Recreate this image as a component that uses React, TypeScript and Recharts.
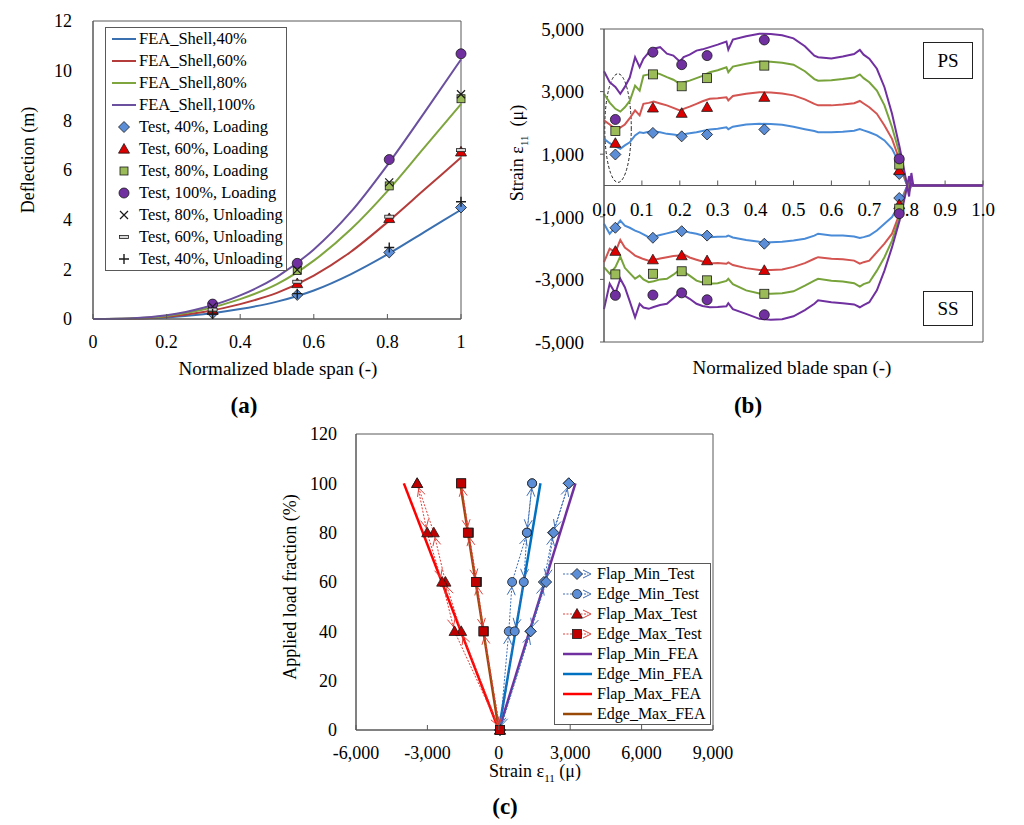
import React from 'react'
import {
  ComposedChart,
  Legend,
  Line,
  ReferenceArea,
  ReferenceDot,
  ReferenceLine,
  Scatter,
  XAxis,
  YAxis,
} from 'recharts'

const FONT = '"Liberation Serif", "Times New Roman", serif'
const AXIS = '#595959'

// ---------- (a) deflection along the span ----------
const A_SPAN = [0, 0.1, 0.2, 0.3, 0.4, 0.5, 0.6, 0.7, 0.8, 0.9, 1]
const A_FEA_40 = [0, 0.01, 0.06, 0.19, 0.4, 0.7, 1.15, 1.8, 2.6, 3.5, 4.4]
const A_FEA_60 = [0, 0.01, 0.09, 0.28, 0.6, 1.05, 1.75, 2.7, 3.9, 5.2, 6.5]
const A_FEA_80 = [0, 0.02, 0.12, 0.38, 0.8, 1.4, 2.35, 3.6, 5.15, 6.9, 8.65]
const A_FEA_100 = [0, 0.02, 0.15, 0.45, 0.95, 1.7, 2.8, 4.3, 6.2, 8.3, 10.45]

const A_TEST_SPAN = [0.325, 0.555, 0.805, 1]
const A_T40_LOAD = [0.23, 0.97, 2.68, 4.49]
const A_T60_LOAD = [0.35, 1.43, 4.05, 6.73]
const A_T80_LOAD = [0.45, 1.95, 5.36, 8.87]
const A_T100_LOAD = [0.6, 2.24, 6.42, 10.68]
const A_T80_UNLOAD = [0.5, 1.98, 5.5, 9.05]
const A_T60_UNLOAD = [0.38, 1.5, 4.12, 6.8]
const A_T40_UNLOAD = [0.2, 1.02, 2.88, 4.72]

const A_TICKS_X = [0, 0.2, 0.4, 0.6, 0.8, 1]
const A_TICKS_Y = [0, 2, 4, 6, 8, 10, 12]

// ---------- (b) strain along the span ----------
const B_SPAN = [
  0, 0.015, 0.03, 0.043, 0.055, 0.068, 0.082, 0.094, 0.104, 0.118, 0.131, 0.148, 0.166, 0.183,
  0.2, 0.21, 0.226, 0.244, 0.26, 0.279, 0.3, 0.323, 0.328, 0.34, 0.375, 0.41, 0.44, 0.47, 0.5,
  0.53, 0.555, 0.565, 0.6, 0.63, 0.66, 0.675, 0.685, 0.7, 0.72, 0.74, 0.76, 0.78, 0.795, 0.805,
  0.811, 0.816, 1,
]
const B_PS_40 = [
  1490, 1350, 1250, 1170, 1280, 1380, 1600, 1700, 1680, 1720, 1730, 1700, 1650, 1630, 1600,
  1640, 1670, 1700, 1740, 1790, 1810, 1860, 1800, 1880, 1950, 1970, 1965, 1940, 1880, 1800,
  1740, 1700, 1700, 1720, 1750, 1800, 1760, 1700, 1600, 1440, 1170, 690, 150, -100, 0, 0, 0,
]
const B_PS_60 = [
  2080, 1950, 1810, 1850, 1950, 2150, 2400, 2240, 2610, 2640, 2680, 2620, 2560, 2480, 2400,
  2450, 2520, 2610, 2690, 2770, 2790, 2820, 2720, 2860, 2930, 2980, 2970, 2940, 2880, 2750,
  2610, 2560, 2560, 2590, 2630, 2700, 2620, 2500, 2290, 1920, 1490, 800, 200, -150, 0, 0, 0,
]
const B_PS_80 = [
  2930, 2650, 2450, 2360, 2500, 2700, 3190, 3030, 3510, 3550, 3620, 3560, 3460, 3380, 3250,
  3300, 3350, 3430, 3500, 3620, 3680, 3780, 3620, 3800, 3890, 3960, 3950, 3920, 3860, 3650,
  3400, 3350, 3360, 3400, 3450, 3550, 3430, 3300, 3030, 2560, 1860, 1010, 250, -200, 0, 0, 0,
]
const B_PS_100 = [
  3650, 3300, 3150, 2930, 3150, 3450, 4100, 3780, 4050, 4250, 4370, 4420, 4210, 4150, 3960,
  4100, 4180, 4310, 4350, 4420, 4500, 4600, 4340, 4660, 4770, 4850, 4840, 4800, 4700, 4450,
  4150, 4100, 4060, 4120, 4200, 4330, 4180, 4050, 3730, 3140, 2290, 1220, 300, -350, 400, 0, 0,
]
const B_SS_40 = [
  -1220, -1540, -1330, -1120, -1280, -1350, -1440, -1500, -1560, -1650, -1640, -1580, -1530,
  -1480, -1420, -1450, -1500, -1540, -1600, -1650, -1640, -1630, -1600, -1660, -1740, -1800,
  -1810, -1800, -1760, -1700, -1600, -1540, -1600, -1600, -1630, -1680, -1650, -1600, -1440,
  -1220, -1010, -590, -150, 100, 0, 0, 0,
]
const B_SS_60 = [
  -2450, -2020, -2130, -1740, -1980, -2100, -2240, -2300, -2350, -2400, -2380, -2330, -2290,
  -2250, -2240, -2200, -2300, -2370, -2430, -2490, -2480, -2500, -2460, -2540, -2640, -2700,
  -2700, -2680, -2600, -2480, -2340, -2290, -2340, -2360, -2400, -2500, -2450, -2400, -2130,
  -1860, -1540, -900, -200, 150, 0, 0, 0,
]
const B_SS_80 = [
  -2610, -2820, -2610, -2270, -2630, -2800, -2980, -2880, -3000, -3090, -3060, -3000, -2980,
  -2850, -2690, -2750, -2880, -3040, -3100, -3140, -3120, -3050, -2980, -3150, -3350, -3450,
  -3460, -3440, -3380, -3200, -3040, -2980, -3040, -3070, -3120, -3230, -3150, -3090, -2720,
  -2290, -1760, -1010, -250, 200, 0, 0, 0,
]
const B_SS_100 = [
  -3950, -3140, -3450, -2980, -3250, -3700, -4210, -3780, -3900, -3940, -3880, -3820, -3780,
  -3600, -3410, -3500, -3620, -3780, -3850, -3890, -3880, -3860, -3760, -3950, -4100, -4260,
  -4290, -4270, -4180, -3980, -3780, -3670, -3730, -3760, -3800, -3890, -3820, -3730, -3350,
  -2720, -1970, -1120, -300, 300, 0, 0, 0,
]

const B_TEST_SPAN = [0.03, 0.129, 0.205, 0.272, 0.423, 0.779]
const B_PS_T40 = [990, 1680, 1570, 1630, 1790, 370]
const B_PS_T60 = [1350, 2480, 2310, 2500, 2820, 480]
const B_PS_T80 = [1740, 3550, 3170, 3430, 3830, 670]
const B_PS_T100 = [2110, 4260, 3860, 4150, 4650, 850]
const B_SS_T40 = [-1350, -1670, -1460, -1600, -1860, -400]
const B_SS_T60 = [-2100, -2370, -2240, -2400, -2710, -610]
const B_SS_T80 = [-2840, -2820, -2740, -3030, -3460, -740]
const B_SS_T100 = [-3510, -3500, -3430, -3650, -4130, -900]

const B_TICKS_X = [0, 0.1, 0.2, 0.3, 0.4, 0.5, 0.6, 0.7, 0.8, 0.9, 1]
const B_TICKS_Y = [-5000, -3000, -1000, 1000, 3000, 5000]

// ---------- (c) load fraction vs strain ----------
const C_LOAD_UP = [0, 40, 60, 80, 100]
const C_LOAD_DOWN = [100, 80, 60, 40, 0]
const C_FLAP_MIN_UP = [50, 1330, 1890, 2280, 2940]
const C_FLAP_MIN_DOWN = [2940, 2300, 1990, 1340, 50]
const C_EDGE_MIN_UP = [50, 420, 560, 1190, 1400]
const C_EDGE_MIN_DOWN = [1400, 1180, 1050, 670, 50]
const C_FLAP_MAX_UP = [50, -1580, -2240, -2730, -3430]
const C_FLAP_MAX_DOWN = [-3430, -3010, -2380, -1860, 50]
const C_EDGE_MAX_UP = [50, -630, -920, -1260, -1580]
const C_EDGE_MAX_DOWN = [-1580, -1300, -960, -650, 50]

const C_FEA_LOAD = [0, 100]
const C_FEA_FLAP_MIN = [0, 3220]
const C_FEA_EDGE_MIN = [0, 1750]
const C_FEA_FLAP_MAX = [0, -3990]
const C_FEA_EDGE_MAX = [0, -1620]

const C_TICKS_X = [-6000, -3000, 0, 3000, 6000, 9000]
const C_TICKS_Y = [0, 20, 40, 60, 80, 100, 120]

// colours
const A_BLUE = '#3B70B0'
const A_RED = '#B43C3A'
const A_GREEN = '#7FA53E'
const A_PURPLE = '#6A509E'
const B_BLUE = '#4A8BD8'
const B_RED = '#D35450'
const B_GREEN = '#77A33A'
const B_PURPLE = '#7030A0'
const M_BLUE = '#5B8ED6'
const M_RED = '#DD0000'
const M_GREEN = '#9BBB59'
const M_PURPLE = '#7030A0'
const M_EDGE = '#1A1A1A'
const C_PURPLE = '#7030A0'
const C_BLUE = '#0070C0'
const C_RED = '#FF0000'
const C_BROWN = '#984807'
const C_TEST_BLUE = '#3D6DB5'
const C_TEST_RED = '#E0403A'
const C_FILL_RED = '#C00000'

type MarkerKind = 'diamond' | 'triangle' | 'square' | 'circle' | 'cross' | 'dash' | 'plus'

interface MarkerProps {
  kind: MarkerKind
  cx: number
  cy: number
  fill: string
  stroke: string
  size: number
}

function Marker({ kind, cx, cy, fill, stroke, size }: MarkerProps) {
  const h = size / 2
  if (kind === 'diamond')
    return (
      <path
        d={`M${cx},${cy - h}L${cx + h},${cy}L${cx},${cy + h}L${cx - h},${cy}Z`}
        fill={fill}
        stroke={stroke}
        strokeWidth={0.8}
      />
    )
  if (kind === 'triangle')
    return (
      <path
        d={`M${cx},${cy - h}L${cx + h},${cy + h * 0.75}L${cx - h},${cy + h * 0.75}Z`}
        fill={fill}
        stroke={stroke}
        strokeWidth={0.8}
      />
    )
  if (kind === 'square')
    return <rect x={cx - h} y={cy - h} width={size} height={size} fill={fill} stroke={stroke} strokeWidth={0.8} />
  if (kind === 'circle') return <circle cx={cx} cy={cy} r={h} fill={fill} stroke={stroke} strokeWidth={0.8} />
  if (kind === 'cross')
    return (
      <path
        d={`M${cx - h},${cy - h}L${cx + h},${cy + h}M${cx - h},${cy + h}L${cx + h},${cy - h}`}
        stroke={stroke}
        strokeWidth={1.2}
        fill="none"
      />
    )
  if (kind === 'plus')
    return (
      <path
        d={`M${cx - h},${cy}L${cx + h},${cy}M${cx},${cy - h}L${cx},${cy + h}`}
        stroke={stroke}
        strokeWidth={1.4}
        fill="none"
      />
    )
  return <rect x={cx - h} y={cy - 1.5} width={size} height={3} fill={fill} stroke={stroke} strokeWidth={0.8} />
}

const markerShape = (kind: MarkerKind, fill: string, stroke: string, size: number) => (p: any) => (
  <Marker kind={kind} cx={p.cx} cy={p.cy} fill={fill} stroke={stroke} size={size} />
)

const pairs = (xs: number[], ys: number[]) => xs.map((x, i) => ({ x, y: ys[i] }))

// dotted test path with an open arrow head at the end of every segment
const arrowLine = (color: string) => (props: any) => {
  const pts: { x: number; y: number }[] = props.points ?? []
  const parts: React.ReactNode[] = []
  for (let i = 1; i < pts.length; i++) {
    const a = pts[i - 1]
    const b = pts[i]
    const dx = b.x - a.x
    const dy = b.y - a.y
    const len = Math.hypot(dx, dy)
    if (len < 2) continue
    const ux = dx / len
    const uy = dy / len
    const tx = b.x - ux * 5
    const ty = b.y - uy * 5
    const bx = tx - ux * 8
    const by = ty - uy * 8
    const px = -uy * 4
    const py = ux * 4
    parts.push(
      <line key={`l${i}`} x1={a.x} y1={a.y} x2={b.x} y2={b.y} stroke={color} strokeWidth={1} strokeDasharray="2 1.5" />,
    )
    parts.push(
      <path key={`h${i}`} d={`M${bx + px},${by + py}L${tx},${ty}L${bx - px},${by - py}`} fill="none" stroke={color} strokeWidth={1} />,
    )
  }
  return <g>{parts}</g>
}

function InnerXTick(props: any) {
  const { x, y, payload, format } = props
  return (
    <g>
      <line x1={x} x2={x} y1={y} y2={y - 5} stroke={AXIS} />
      <text x={x} y={y + 23} textAnchor="middle" dominantBaseline="central" fontSize={18} fontFamily={FONT} fill="#000">
        {format(payload.value)}
      </text>
    </g>
  )
}

function Caption({
  x,
  y,
  children,
  size = 19,
  rotate = false,
  bold = false,
}: {
  x: number
  y: number
  children: React.ReactNode
  size?: number
  rotate?: boolean
  bold?: boolean
}) {
  return (
    <div
      style={{
        position: 'absolute',
        left: x,
        top: y,
        transform: `translate(-50%, -50%)${rotate ? ' rotate(-90deg)' : ''}`,
        whiteSpace: 'nowrap',
        fontFamily: FONT,
        fontSize: size,
        fontWeight: bold ? 700 : 400,
        lineHeight: 1,
        color: '#000',
      }}
    >
      {children}
    </div>
  )
}

const A_LEGEND: { label: string; line?: string; kind?: MarkerKind; fill?: string; size?: number }[] = [
  { label: 'FEA_Shell,40%', line: A_BLUE },
  { label: 'FEA_Shell,60%', line: A_RED },
  { label: 'FEA_Shell,80%', line: A_GREEN },
  { label: 'FEA_Shell,100%', line: A_PURPLE },
  { label: 'Test, 40%, Loading', kind: 'diamond', fill: M_BLUE, size: 11 },
  { label: 'Test, 60%, Loading', kind: 'triangle', fill: M_RED, size: 11 },
  { label: 'Test, 80%, Loading', kind: 'square', fill: M_GREEN, size: 8 },
  { label: 'Test, 100%, Loading', kind: 'circle', fill: M_PURPLE, size: 10 },
  { label: 'Test, 80%, Unloading', kind: 'cross', fill: 'none', size: 8 },
  { label: 'Test, 60%, Unloading', kind: 'dash', fill: '#d9d9d9', size: 9 },
  { label: 'Test, 40%, Unloading', kind: 'plus', fill: 'none', size: 10 },
]

function LegendA() {
  return (
    <div style={{ width: 180, border: `1px solid ${AXIS}`, background: '#fff', fontFamily: FONT, fontSize: 16.5 }}>
      {A_LEGEND.map((item) => (
        <div key={item.label} style={{ display: 'flex', alignItems: 'center', height: 22 }}>
          <svg width={33} height={22} style={{ flex: 'none' }}>
            {item.line ? (
              <line x1={6} x2={30} y1={11} y2={11} stroke={item.line} strokeWidth={2} />
            ) : (
              <Marker kind={item.kind!} cx={18} cy={11} fill={item.fill!} stroke={M_EDGE} size={item.size!} />
            )}
          </svg>
          <span style={{ whiteSpace: 'nowrap' }}>{item.label}</span>
        </div>
      ))}
    </div>
  )
}

const C_LEGEND: { label: string; color: string; kind?: MarkerKind; fill?: string; size?: number }[] = [
  { label: 'Flap_Min_Test', color: C_TEST_BLUE, kind: 'diamond', fill: M_BLUE, size: 11 },
  { label: 'Edge_Min_Test', color: C_TEST_BLUE, kind: 'circle', fill: M_BLUE, size: 9 },
  { label: 'Flap_Max_Test', color: C_TEST_RED, kind: 'triangle', fill: C_FILL_RED, size: 11 },
  { label: 'Edge_Max_Test', color: C_TEST_RED, kind: 'square', fill: C_FILL_RED, size: 9 },
  { label: 'Flap_Min_FEA', color: C_PURPLE },
  { label: 'Edge_Min_FEA', color: C_BLUE },
  { label: 'Flap_Max_FEA', color: C_RED },
  { label: 'Edge_Max_FEA', color: C_BROWN },
]

function LegendC() {
  return (
    <div style={{ width: 155, border: `1px solid ${AXIS}`, background: '#fff', fontFamily: FONT, fontSize: 16 }}>
      {C_LEGEND.map((item) => (
        <div key={item.label} style={{ display: 'flex', alignItems: 'center', height: 20 }}>
          <svg width={42} height={20} style={{ flex: 'none' }}>
            {item.kind ? (
              <g>
                <line x1={8} x2={33} y1={10} y2={10} stroke={item.color} strokeDasharray="2 1.5" />
                <Marker kind={item.kind} cx={22} cy={10} fill={item.fill!} stroke={M_EDGE} size={item.size!} />
                <path d="M28,6L36,10L28,14" fill="none" stroke={item.color} />
              </g>
            ) : (
              <line x1={8} x2={37} y1={10} y2={10} stroke={item.color} strokeWidth={2.5} />
            )}
          </svg>
          <span style={{ whiteSpace: 'nowrap' }}>{item.label}</span>
        </div>
      ))}
    </div>
  )
}

const tickStyle = { fontSize: 18, fontFamily: FONT, fill: '#000' }

function ChartA() {
  const table = A_SPAN.map((x, i) => ({
    x,
    f40: A_FEA_40[i],
    f60: A_FEA_60[i],
    f80: A_FEA_80[i],
    f100: A_FEA_100[i],
  }))
  return (
    <ComposedChart width={490} height={420} data={table} margin={{ top: 21, right: 29, bottom: 71, left: 0 }}>
      <XAxis
        dataKey="x"
        type="number"
        domain={[0, 1]}
        ticks={A_TICKS_X}
        height={30}
        tickSize={0}
        tickMargin={0}
        axisLine={{ stroke: AXIS }}
        tickLine={false}
        tick={<InnerXTick format={(v: number) => String(v)} />}
      />
      <YAxis
        type="number"
        domain={[0, 12]}
        ticks={A_TICKS_Y}
        width={93}
        tickSize={0}
        tickMargin={21}
        tickLine={false}
        axisLine={{ stroke: AXIS }}
        tick={tickStyle}
      />
      <ReferenceArea x1={0} x2={1} y1={0} y2={12} fill="none" stroke={AXIS} strokeWidth={1} />
      <Line dataKey="f40" type="monotone" stroke={A_BLUE} strokeWidth={2} dot={false} isAnimationActive={false} />
      <Line dataKey="f60" type="monotone" stroke={A_RED} strokeWidth={2} dot={false} isAnimationActive={false} />
      <Line dataKey="f80" type="monotone" stroke={A_GREEN} strokeWidth={2} dot={false} isAnimationActive={false} />
      <Line dataKey="f100" type="monotone" stroke={A_PURPLE} strokeWidth={2} dot={false} isAnimationActive={false} />
      <Scatter data={pairs(A_TEST_SPAN, A_T40_LOAD)} dataKey="y" shape={markerShape('diamond', M_BLUE, M_EDGE, 11)} isAnimationActive={false} />
      <Scatter data={pairs(A_TEST_SPAN, A_T60_LOAD)} dataKey="y" shape={markerShape('triangle', M_RED, M_EDGE, 11)} isAnimationActive={false} />
      <Scatter data={pairs(A_TEST_SPAN, A_T80_LOAD)} dataKey="y" shape={markerShape('square', M_GREEN, M_EDGE, 8)} isAnimationActive={false} />
      <Scatter data={pairs(A_TEST_SPAN, A_T100_LOAD)} dataKey="y" shape={markerShape('circle', M_PURPLE, M_EDGE, 10)} isAnimationActive={false} />
      <Scatter data={pairs(A_TEST_SPAN, A_T80_UNLOAD)} dataKey="y" shape={markerShape('cross', 'none', M_EDGE, 8)} isAnimationActive={false} />
      <Scatter data={pairs(A_TEST_SPAN, A_T60_UNLOAD)} dataKey="y" shape={markerShape('dash', '#d9d9d9', M_EDGE, 9)} isAnimationActive={false} />
      <Scatter data={pairs(A_TEST_SPAN, A_T40_UNLOAD)} dataKey="y" shape={markerShape('plus', 'none', M_EDGE, 10)} isAnimationActive={false} />
      <Legend
        layout="vertical"
        align="center"
        verticalAlign="middle"
        content={() => <LegendA />}
        wrapperStyle={{ left: 105, top: 27, width: 'auto', height: 'auto' }}
      />
    </ComposedChart>
  )
}

function ChartB() {
  const table = B_SPAN.map((x, i) => ({
    x,
    ps40: B_PS_40[i],
    ps60: B_PS_60[i],
    ps80: B_PS_80[i],
    ps100: B_PS_100[i],
    ss40: B_SS_40[i],
    ss60: B_SS_60[i],
    ss80: B_SS_80[i],
    ss100: B_SS_100[i],
  }))
  const both = (ps: number[], ss: number[]) => [...pairs(B_TEST_SPAN, ps), ...pairs(B_TEST_SPAN, ss)]
  const lines: [string, string][] = [
    ['ps40', B_BLUE],
    ['ps60', B_RED],
    ['ps80', B_GREEN],
    ['ss40', B_BLUE],
    ['ss60', B_RED],
    ['ss80', B_GREEN],
    ['ss100', B_PURPLE],
    ['ps100', B_PURPLE],
  ]
  return (
    <ComposedChart width={524} height={420} data={table} margin={{ top: 29, right: 41, bottom: 78, left: 0 }}>
      <XAxis dataKey="x" type="number" domain={[0, 1]} hide />
      <YAxis
        type="number"
        domain={[-5000, 5000]}
        ticks={B_TICKS_Y}
        width={104}
        tickSize={4}
        tickMargin={16}
        tickLine={{ stroke: AXIS }}
        axisLine={{ stroke: AXIS }}
        tick={{ ...tickStyle, fontSize: 19 }}
        tickFormatter={(v: number) => v.toLocaleString('en-US')}
      />
      <ReferenceArea x1={0} x2={1} y1={-5000} y2={5000} fill="none" stroke={AXIS} strokeWidth={1} />
      <ReferenceLine y={0} stroke={AXIS} strokeWidth={1} />
      {B_TICKS_X.map((t) => (
        <ReferenceDot
          key={t}
          x={t}
          y={0}
          r={1}
          shape={(p: any) => (
            <g>
              {t > 0 && <line x1={p.cx} x2={p.cx} y1={p.cy} y2={p.cy - 5} stroke={AXIS} />}
              <text
                x={p.cx}
                y={p.cy + 24}
                textAnchor="middle"
                dominantBaseline="central"
                fontSize={19}
                fontFamily={FONT}
                fill="#000"
              >
                {t.toFixed(1)}
              </text>
            </g>
          )}
        />
      ))}
      <ReferenceArea
        x1={0.002}
        x2={0.072}
        y1={100}
        y2={3570}
        shape={(p: any) => (
          <ellipse
            cx={p.x + p.width / 2}
            cy={p.y + p.height / 2}
            rx={p.width / 2}
            ry={p.height / 2}
            fill="none"
            stroke="#222"
            strokeWidth={1}
            strokeDasharray="3 2"
          />
        )}
      />
      {lines.map(([key, color]) => (
        <Line key={key} dataKey={key} type="linear" stroke={color} strokeWidth={2} dot={false} isAnimationActive={false} />
      ))}
      <Scatter data={both(B_PS_T40, B_SS_T40)} dataKey="y" shape={markerShape('diamond', M_BLUE, M_EDGE, 11)} isAnimationActive={false} />
      <Scatter data={both(B_PS_T60, B_SS_T60)} dataKey="y" shape={markerShape('triangle', M_RED, M_EDGE, 11)} isAnimationActive={false} />
      <Scatter data={both(B_PS_T80, B_SS_T80)} dataKey="y" shape={markerShape('square', M_GREEN, M_EDGE, 9)} isAnimationActive={false} />
      <Scatter data={both(B_PS_T100, B_SS_T100)} dataKey="y" shape={markerShape('circle', M_PURPLE, M_EDGE, 10)} isAnimationActive={false} />
    </ComposedChart>
  )
}

function ChartC() {
  const path = (up: number[], down: number[]) => [...pairs(up, C_LOAD_UP), ...pairs(down, C_LOAD_DOWN)]
  const fea: [number[], string][] = [
    [C_FEA_FLAP_MIN, C_PURPLE],
    [C_FEA_EDGE_MIN, C_BLUE],
    [C_FEA_FLAP_MAX, C_RED],
    [C_FEA_EDGE_MAX, C_BROWN],
  ]
  return (
    <ComposedChart width={480} height={405} margin={{ top: 14, right: 37, bottom: 65, left: 0 }}>
      <XAxis
        dataKey="x"
        type="number"
        domain={[-6000, 9000]}
        ticks={C_TICKS_X}
        height={30}
        tickSize={0}
        tickMargin={0}
        axisLine={{ stroke: AXIS }}
        tickLine={false}
        tick={<InnerXTick format={(v: number) => v.toLocaleString('en-US')} />}
      />
      <YAxis
        type="number"
        domain={[0, 120]}
        ticks={C_TICKS_Y}
        width={86}
        tickSize={0}
        tickMargin={19}
        tickLine={false}
        axisLine={{ stroke: AXIS }}
        tick={tickStyle}
      />
      <ReferenceArea x1={-6000} x2={9000} y1={0} y2={120} fill="none" stroke={AXIS} strokeWidth={1} />
      <Scatter data={path(C_FLAP_MIN_UP, C_FLAP_MIN_DOWN)} dataKey="y" line={arrowLine(C_TEST_BLUE)} shape={markerShape('diamond', M_BLUE, M_EDGE, 11)} isAnimationActive={false} />
      <Scatter data={path(C_EDGE_MIN_UP, C_EDGE_MIN_DOWN)} dataKey="y" line={arrowLine(C_TEST_BLUE)} shape={markerShape('circle', M_BLUE, M_EDGE, 9)} isAnimationActive={false} />
      <Scatter data={path(C_FLAP_MAX_UP, C_FLAP_MAX_DOWN)} dataKey="y" line={arrowLine(C_TEST_RED)} shape={markerShape('triangle', C_FILL_RED, M_EDGE, 11)} isAnimationActive={false} />
      {fea.map(([xs, color]) => (
        <Line key={color} data={pairs(xs, C_FEA_LOAD)} dataKey="y" type="linear" stroke={color} strokeWidth={2.5} dot={false} isAnimationActive={false} />
      ))}
      <Scatter data={path(C_EDGE_MAX_UP, C_EDGE_MAX_DOWN)} dataKey="y" line={arrowLine(C_TEST_RED)} shape={markerShape('square', C_FILL_RED, M_EDGE, 9)} isAnimationActive={false} />
      <Legend
        layout="vertical"
        align="center"
        verticalAlign="middle"
        content={() => <LegendC />}
        wrapperStyle={{ left: 284, top: 143, width: 'auto', height: 'auto' }}
      />
    </ComposedChart>
  )
}

export default function App() {
  const boxStyle: React.CSSProperties = {
    position: 'absolute',
    border: '1px solid #222',
    background: '#fff',
    fontFamily: FONT,
    fontSize: 19,
    display: 'flex',
    alignItems: 'center',
    justifyContent: 'center',
  }
  return (
    <div style={{ position: 'absolute', left: 0, top: 0, width: 1024, height: 825, background: '#fff', overflow: 'hidden' }}>
      <div style={{ position: 'absolute', left: 0, top: 0 }}>
        <ChartA />
      </div>
      <div style={{ position: 'absolute', left: 500, top: 0 }}>
        <ChartB />
      </div>
      <div style={{ position: 'absolute', left: 270, top: 420 }}>
        <ChartC />
      </div>

      <div style={{ ...boxStyle, left: 923, top: 42, width: 48, height: 35 }}>PS</div>
      <div style={{ ...boxStyle, left: 923, top: 291, width: 48, height: 33 }}>SS</div>

      <Caption x={278} y={368}>Normalized blade span (-)</Caption>
      <Caption x={28} y={160} size={18} rotate>
        Deflection (m)
      </Caption>
      <Caption x={244} y={405} size={23} bold>
        (a)
      </Caption>

      <Caption x={792} y={367}>Normalized blade span (-)</Caption>
      <Caption x={519} y={153} size={18} rotate>
        <span>
          Strain ε<sub style={{ fontSize: 11 }}>11</sub>&nbsp;&nbsp;(μ)
        </span>
      </Caption>
      <Caption x={748} y={405} size={23} bold>
        (b)
      </Caption>

      <Caption x={535} y={773} size={18}>
        <span>
          Strain ε<sub style={{ fontSize: 11 }}>11</sub> (μ)
        </span>
      </Caption>
      <Caption x={290} y={587} size={18} rotate>
        Applied load fraction (%)
      </Caption>
      <Caption x={505} y={806} size={23} bold>
        (c)
      </Caption>
    </div>
  )
}
